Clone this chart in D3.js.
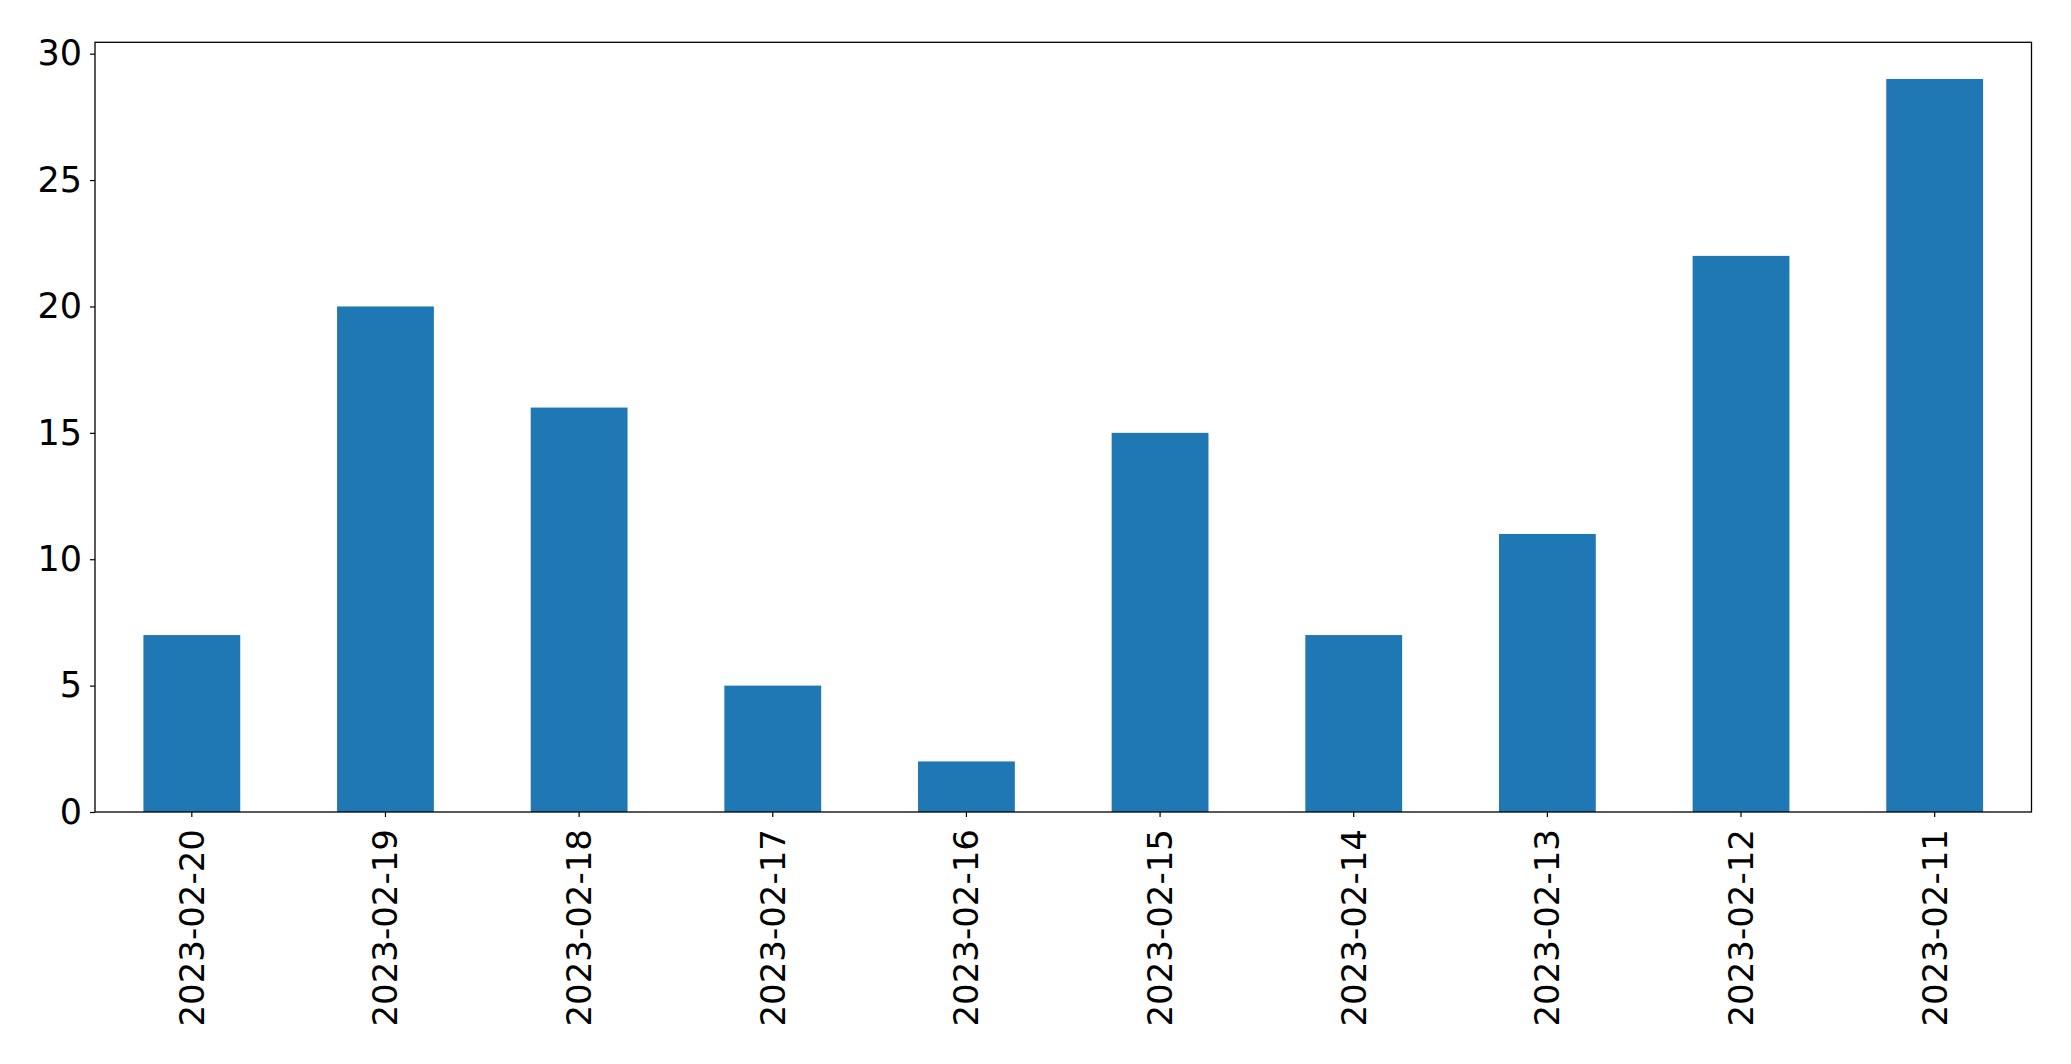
<!DOCTYPE html>
<html><head><meta charset="utf-8">
<script src="https://cdn.jsdelivr.net/npm/d3@7"></script>
<style>body{margin:0;background:#fff}svg{display:block}</style>
</head><body>
<script>
const categories = ["2023-02-20","2023-02-19","2023-02-18","2023-02-17","2023-02-16","2023-02-15","2023-02-14","2023-02-13","2023-02-12","2023-02-11"];
const values = [7,20,16,5,2,15,7,11,22,29];
const yTicks = [0,5,10,15,20,25,30];

const W = 2071, H = 1064;
const L = 95, R = 2031.5, T = 42.3, B = 812;
const svg = d3.select("body").append("svg").attr("width", W).attr("height", H);

const x = d3.scaleBand().domain(categories).range([L, R]).paddingInner(0.5).paddingOuter(0.25);
const y = d3.scaleLinear().domain([0, d3.max(values) * 1.05]).range([B, T]);

svg.append("g").selectAll("rect").data(values).join("rect")
  .attr("x", (d, i) => x(categories[i]))
  .attr("width", x.bandwidth())
  .attr("y", d => y(d))
  .attr("height", d => y(0) - y(d))
  .attr("fill", "#1f77b4");

const font = "DejaVu Sans";
const yAxis = svg.append("g").attr("transform", `translate(${L},0)`)
  .call(d3.axisLeft(y).tickValues(yTicks).tickSize(5).tickPadding(8).tickFormat(d3.format("d")));
yAxis.select(".domain").remove();
yAxis.selectAll("text").attr("font-family", font).attr("font-size", 35).attr("fill", "#000");
yAxis.selectAll("line").attr("stroke", "#000").attr("stroke-width", 1.2);

const xAxis = svg.append("g").attr("transform", `translate(0,${B})`)
  .call(d3.axisBottom(x).tickSize(5).tickPadding(0));
xAxis.select(".domain").remove();
xAxis.selectAll("line").attr("stroke", "#000").attr("stroke-width", 1.2);
xAxis.selectAll("text")
  .attr("font-family", font).attr("font-size", 34).attr("fill", "#000")
  .attr("text-anchor", "end")
  .attr("transform", "translate(0,17) rotate(-90)")
  .attr("x", 0).attr("y", 0).attr("dy", "0.35em");

svg.append("rect").attr("x", L).attr("y", T).attr("width", R - L).attr("height", B - T)
  .attr("fill", "none").attr("stroke", "#000").attr("stroke-width", 1.3);
</script>
</body></html>
